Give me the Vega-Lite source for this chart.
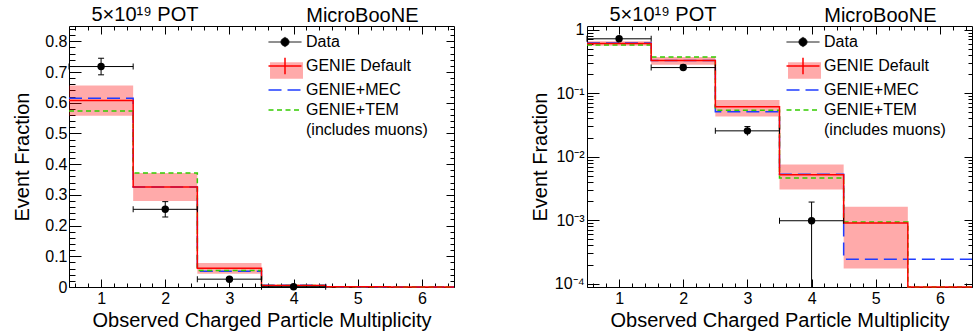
{
  "$schema": "https://vega.github.io/schema/vega-lite/v6.json",
  "padding": {"left": 11, "top": 4, "right": 0, "bottom": 0},
  "spacing": 71,
  "config": {
    "font": "Liberation Sans",
    "view": {"stroke": "black", "strokeWidth": 1},
    "axis": {"domain": false, "grid": false, "tickColor": "black", "tickWidth": 1, "labelColor": "black", "titleColor": "black", "labelFont": "Liberation Sans", "titleFont": "Liberation Sans", "labelFontSize": 16, "titleFontSize": 20, "titleFontWeight": "normal", "labelFlush": false, "labelOverlap": false, "labelBound": false},
    "legend": {"labelFont": "Liberation Sans", "labelFontSize": 16, "labelColor": "black", "padding": 0}
  },
  "resolve": {"scale": {"fill": "independent", "stroke": "independent"}},
  "datasets": {
    "hist": [
      {"model": "GENIE Default", "lo": 0.5, "hi": 1.5, "value": 0.607},
      {"model": "GENIE Default", "lo": 1.5, "hi": 2.5, "value": 0.326},
      {"model": "GENIE Default", "lo": 2.5, "hi": 3.5, "value": 0.061},
      {"model": "GENIE Default", "lo": 3.5, "hi": 4.5, "value": 0.0052},
      {"model": "GENIE Default", "lo": 4.5, "hi": 5.5, "value": 0.0009},
      {"model": "GENIE Default", "lo": 5.5, "hi": 6.5, "value": 0},
      {"model": "GENIE+MEC", "lo": 0.5, "hi": 1.5, "value": 0.615},
      {"model": "GENIE+MEC", "lo": 1.5, "hi": 2.5, "value": 0.326},
      {"model": "GENIE+MEC", "lo": 2.5, "hi": 3.5, "value": 0.051},
      {"model": "GENIE+MEC", "lo": 3.5, "hi": 4.5, "value": 0.0053},
      {"model": "GENIE+MEC", "lo": 4.5, "hi": 5.5, "value": 0.000243},
      {"model": "GENIE+MEC", "lo": 5.5, "hi": 6.5, "value": 0.000243},
      {"model": "GENIE+TEM", "lo": 0.5, "hi": 1.5, "value": 0.573},
      {"model": "GENIE+TEM", "lo": 1.5, "hi": 2.5, "value": 0.371},
      {"model": "GENIE+TEM", "lo": 2.5, "hi": 3.5, "value": 0.054},
      {"model": "GENIE+TEM", "lo": 3.5, "hi": 4.5, "value": 0.0046},
      {"model": "GENIE+TEM", "lo": 4.5, "hi": 5.5, "value": 0.00094},
      {"model": "GENIE+TEM", "lo": 5.5, "hi": 6.5, "value": 0}
    ],
    "band": [
      {"model": "GENIE Default", "lo": 0.5, "hi": 1.5, "blo": 0.558, "bhi": 0.656},
      {"model": "GENIE Default", "lo": 1.5, "hi": 2.5, "blo": 0.28, "bhi": 0.371},
      {"model": "GENIE Default", "lo": 2.5, "hi": 3.5, "blo": 0.043, "bhi": 0.078},
      {"model": "GENIE Default", "lo": 3.5, "hi": 4.5, "blo": 0.00305, "bhi": 0.0075},
      {"model": "GENIE Default", "lo": 4.5, "hi": 5.5, "blo": 0.000173, "bhi": 0.00163}
    ],
    "data": [
      {"bin": 1, "lo": 0.5, "hi": 1.5, "value": 0.718, "elo": 0.691, "ehi": 0.745},
      {"bin": 2, "lo": 1.5, "hi": 2.5, "value": 0.253, "elo": 0.228, "ehi": 0.278},
      {"bin": 3, "lo": 2.5, "hi": 3.5, "value": 0.0255, "elo": 0.0215, "ehi": 0.0298},
      {"bin": 4, "lo": 3.5, "hi": 4.5, "value": 0.00098, "elo": 0.00003, "ehi": 0.00193}
    ]
  },
  "hconcat": [
    {
      "width": 385, "height": 261,
      "resolve": {"axis": {"x": "independent", "y": "independent"}},
      "layer": [
        {
          "data": {"name": "band"},
          "mark": {"type": "rect"},
          "encoding": {
            "x": {"field": "lo", "type": "quantitative", "scale": {"domain": [0.5, 6.5], "nice": false, "zero": false},
              "axis": {"orient": "bottom", "values": [1, 2, 3, 4, 5, 6], "tickSize": -8, "labelPadding": 11, "title": "Observed Charged Particle Multiplicity", "titleY": 39, "titleBaseline": "alphabetic"}},
            "x2": {"field": "hi"},
            "y": {"field": "blo", "type": "quantitative", "scale": {"domain": [0, 0.85], "nice": false, "zero": false},
              "axis": {"orient": "left", "values": [0, 0.1, 0.2, 0.3, 0.4, 0.5, 0.6, 0.7, 0.8], "tickSize": -12, "labelPadding": 14, "labelExpr": "datum.value == 0 ? '0' : format(datum.value, '.1f')", "title": "Event Fraction", "titleX": -41, "titleY": 130.5, "titleBaseline": "alphabetic", "titleAngle": -90}},
            "y2": {"field": "bhi"},
            "fill": {"field": "model", "type": "nominal", "scale": {"domain": ["Data", "GENIE Default"], "range": ["transparent", "rgba(255,0,0,0.333)"]},
              "legend": {"orient": "none", "legendX": 208, "legendY": 8, "title": null, "labelExpr": "''", "symbolSize": 289, "symbolStrokeWidth": 1.5, "labelOffset": 13, "rowPadding": 4,
                "encode": {"symbols": {"update": {"shape": {"value": "M-1.94,-0.98H1.94V0.98H-1.94Z"}, "stroke": {"value": "transparent"}}}}}}
          }
        },
        {
          "data": {"name": "hist"},
          "transform": [{"filter": "datum.model === 'GENIE+MEC'"}, {"fold": ["lo", "hi"], "as": ["edge", "xpos"]}],
          "mark": {"type": "line", "strokeWidth": 1.5, "strokeDash": [13, 6]},
          "encoding": {
            "x": {"field": "xpos", "type": "quantitative", "axis": {"orient": "bottom", "values": [0.6, 0.8, 1.2, 1.4, 1.6, 1.8, 2.2, 2.4, 2.6, 2.8, 3.2, 3.4, 3.6, 3.8, 4.2, 4.4, 4.6, 4.8, 5.2, 5.4, 5.6, 5.8, 6.2, 6.4], "tickSize": -4, "labels": false, "title": null}},
            "y": {"field": "value", "type": "quantitative", "axis": {"orient": "left", "values": [0.02, 0.04, 0.06, 0.08, 0.12, 0.14, 0.16, 0.18, 0.22, 0.24, 0.26, 0.28, 0.32, 0.34, 0.36, 0.38, 0.42, 0.44, 0.46, 0.48, 0.52, 0.54, 0.56, 0.58, 0.62, 0.64, 0.66, 0.68, 0.72, 0.74, 0.76, 0.78, 0.82, 0.84], "tickSize": -6, "labels": false, "title": null}},
            "stroke": {"field": "model", "type": "nominal", "scale": {"domain": ["Data", "GENIE Default", "GENIE+MEC", "GENIE+TEM", "(includes muons)"], "range": ["black", "#ff0000", "#1f3cff", "#33cc00", "transparent"]},
              "legend": {"orient": "none", "legendX": 208, "legendY": 8, "title": null, "symbolSize": 289, "symbolStrokeWidth": 1.5, "labelOffset": 13, "rowPadding": 4,
                "encode": {"symbols": {"update": {
                  "shape": {"signal": "datum.value === 'Data' ? 'M-1.94,0H1.94M0,-0.6V0.6M-0.47,0A0.47,0.47,0,1,0,0.47,0A0.47,0.47,0,1,0,-0.47,0Z' : datum.value === 'GENIE Default' ? 'M-1.94,0H1.94M0,-0.98V0.98' : 'M-1.94,0H1.94'"},
                  "fill": {"signal": "datum.value === 'Data' ? 'black' : 'transparent'"},
                  "strokeDash": {"signal": "datum.value === 'GENIE+MEC' ? [13, 6] : datum.value === 'GENIE+TEM' ? [5, 3.5] : [1, 0]"},
                  "strokeWidth": {"signal": "datum.value === 'Data' ? 1 : 1.5"}
                }}}}},
            "order": [{"field": "xpos", "type": "quantitative"}, {"field": "edge", "type": "nominal"}]
          }
        },
        {
          "data": {"name": "hist"},
          "transform": [{"filter": "datum.model === 'GENIE+TEM'"}, {"fold": ["lo", "hi"], "as": ["edge", "xpos"]}],
          "mark": {"type": "line", "strokeWidth": 1.5, "strokeDash": [5, 3.5]},
          "encoding": {
            "x": {"field": "xpos", "type": "quantitative", "axis": {"orient": "top", "values": [1, 2, 3, 4, 5, 6], "tickSize": -8, "labels": false, "title": "5×10¹⁹ POT", "titleX": 22, "titleY": -5.5, "titleAlign": "left", "titleBaseline": "alphabetic", "titleAngle": 0, "titleFontSize": 20}},
            "y": {"field": "value", "type": "quantitative", "axis": {"orient": "right", "values": [0, 0.1, 0.2, 0.3, 0.4, 0.5, 0.6, 0.7, 0.8], "tickSize": -8, "labels": false, "title": null}},
            "stroke": {"field": "model", "type": "nominal"},
            "order": [{"field": "xpos", "type": "quantitative"}, {"field": "edge", "type": "nominal"}]
          }
        },
        {
          "data": {"name": "hist"},
          "transform": [{"filter": "datum.model === 'GENIE Default'"}, {"fold": ["lo", "hi"], "as": ["edge", "xpos"]}],
          "mark": {"type": "line", "strokeWidth": 1.5},
          "encoding": {
            "x": {"field": "xpos", "type": "quantitative", "axis": {"orient": "top", "values": [0.6, 0.8, 1.2, 1.4, 1.6, 1.8, 2.2, 2.4, 2.6, 2.8, 3.2, 3.4, 3.6, 3.8, 4.2, 4.4, 4.6, 4.8, 5.2, 5.4, 5.6, 5.8, 6.2, 6.4], "tickSize": -4, "labels": false, "title": "MicroBooNE", "titleX": 349, "titleY": -4.5, "titleAlign": "right", "titleBaseline": "alphabetic", "titleAngle": 0, "titleFontSize": 20}},
            "y": {"field": "value", "type": "quantitative", "axis": {"orient": "right", "values": [0.02, 0.04, 0.06, 0.08, 0.12, 0.14, 0.16, 0.18, 0.22, 0.24, 0.26, 0.28, 0.32, 0.34, 0.36, 0.38, 0.42, 0.44, 0.46, 0.48, 0.52, 0.54, 0.56, 0.58, 0.62, 0.64, 0.66, 0.68, 0.72, 0.74, 0.76, 0.78, 0.82, 0.84], "tickSize": -4, "labels": false, "title": null}},
            "stroke": {"field": "model", "type": "nominal"},
            "order": [{"field": "xpos", "type": "quantitative"}, {"field": "edge", "type": "nominal"}]
          }
        },
        {
          "data": {"name": "data"},
          "mark": {"type": "rule", "color": "black", "strokeWidth": 1},
          "encoding": {"x": {"field": "lo", "type": "quantitative", "axis": null}, "x2": {"field": "hi"}, "y": {"field": "value", "type": "quantitative", "axis": null}}
        },
        {
          "data": {"name": "data"},
          "mark": {"type": "rule", "color": "black", "strokeWidth": 1},
          "encoding": {"x": {"field": "bin", "type": "quantitative", "axis": null}, "y": {"field": "elo", "type": "quantitative", "axis": null}, "y2": {"field": "ehi"}}
        },
        {
          "data": {"name": "data"},
          "mark": {"type": "tick", "orient": "vertical", "size": 6, "thickness": 1, "color": "black", "opacity": 1},
          "encoding": {"x": {"field": "lo", "type": "quantitative", "axis": null}, "y": {"field": "value", "type": "quantitative", "axis": null}}
        },
        {
          "data": {"name": "data"},
          "mark": {"type": "tick", "orient": "vertical", "size": 6, "thickness": 1, "color": "black", "opacity": 1},
          "encoding": {"x": {"field": "hi", "type": "quantitative", "axis": null}, "y": {"field": "value", "type": "quantitative", "axis": null}}
        },
        {
          "data": {"name": "data"},
          "mark": {"type": "tick", "orient": "horizontal", "size": 6, "thickness": 1, "color": "black", "opacity": 1},
          "encoding": {"x": {"field": "bin", "type": "quantitative", "axis": null}, "y": {"field": "ehi", "type": "quantitative", "axis": null}}
        },
        {
          "data": {"name": "data"},
          "mark": {"type": "tick", "orient": "horizontal", "size": 6, "thickness": 1, "color": "black", "opacity": 1},
          "encoding": {"x": {"field": "bin", "type": "quantitative", "axis": null}, "y": {"field": "elo", "type": "quantitative", "axis": null}}
        },
        {
          "data": {"name": "data"},
          "mark": {"type": "circle", "size": 55, "color": "black", "opacity": 1},
          "encoding": {"x": {"field": "bin", "type": "quantitative", "axis": null}, "y": {"field": "value", "type": "quantitative", "axis": null}}
        }
      ]
    },
    {
      "width": 385, "height": 261,
      "resolve": {"axis": {"x": "independent", "y": "independent"}},
      "layer": [
        {
          "data": {"name": "band"},
          "mark": {"type": "rect"},
          "encoding": {
            "x": {"field": "lo", "type": "quantitative", "scale": {"domain": [0.5, 6.5], "nice": false, "zero": false},
              "axis": {"orient": "bottom", "values": [1, 2, 3, 4, 5, 6], "tickSize": -8, "labelPadding": 11, "title": "Observed Charged Particle Multiplicity", "titleY": 39, "titleBaseline": "alphabetic"}},
            "x2": {"field": "hi"},
            "y": {"field": "blo", "type": "quantitative", "scale": {"type": "log", "domain": [0.0000887, 1.142], "nice": false, "zero": false, "clamp": true},
              "axis": {"orient": "left", "values": [0.0001, 0.001, 0.01, 0.1, 1], "tickSize": -12, "labelPadding": 15, "labelExpr": "datum.value > 0.5 ? '1' : datum.value > 0.05 ? '10⁻¹' : datum.value > 0.005 ? '10⁻²' : datum.value > 0.0005 ? '10⁻³' : '10⁻⁴'", "title": "Event Fraction", "titleX": -41, "titleY": 130.5, "titleBaseline": "alphabetic", "titleAngle": -90}},
            "y2": {"field": "bhi"},
            "fill": {"field": "model", "type": "nominal", "scale": {"domain": ["Data", "GENIE Default"], "range": ["transparent", "rgba(255,0,0,0.333)"]},
              "legend": {"orient": "none", "legendX": 208, "legendY": 8, "title": null, "labelExpr": "''", "symbolSize": 289, "symbolStrokeWidth": 1.5, "labelOffset": 13, "rowPadding": 4,
                "encode": {"symbols": {"update": {"shape": {"value": "M-1.94,-0.98H1.94V0.98H-1.94Z"}, "stroke": {"value": "transparent"}}}}}}
          }
        },
        {
          "data": {"name": "hist"},
          "transform": [{"filter": "datum.model === 'GENIE+MEC'"}, {"fold": ["lo", "hi"], "as": ["edge", "xpos"]}],
          "mark": {"type": "line", "strokeWidth": 1.5, "strokeDash": [13, 6]},
          "encoding": {
            "x": {"field": "xpos", "type": "quantitative", "axis": {"orient": "bottom", "values": [0.6, 0.8, 1.2, 1.4, 1.6, 1.8, 2.2, 2.4, 2.6, 2.8, 3.2, 3.4, 3.6, 3.8, 4.2, 4.4, 4.6, 4.8, 5.2, 5.4, 5.6, 5.8, 6.2, 6.4], "tickSize": -4, "labels": false, "title": null}},
            "y": {"field": "value", "type": "quantitative", "axis": {"orient": "left", "values": [0.00009, 0.0002, 0.0003, 0.0004, 0.0005, 0.0006, 0.0007, 0.0008, 0.0009, 0.002, 0.003, 0.004, 0.005, 0.006, 0.007, 0.008, 0.009, 0.02, 0.03, 0.04, 0.05, 0.06, 0.07, 0.08, 0.09, 0.2, 0.3, 0.4, 0.5, 0.6, 0.7, 0.8, 0.9], "tickSize": -6, "labels": false, "title": null}},
            "stroke": {"field": "model", "type": "nominal", "scale": {"domain": ["Data", "GENIE Default", "GENIE+MEC", "GENIE+TEM", "(includes muons)"], "range": ["black", "#ff0000", "#1f3cff", "#33cc00", "transparent"]},
              "legend": {"orient": "none", "legendX": 208, "legendY": 8, "title": null, "symbolSize": 289, "symbolStrokeWidth": 1.5, "labelOffset": 13, "rowPadding": 4,
                "encode": {"symbols": {"update": {
                  "shape": {"signal": "datum.value === 'Data' ? 'M-1.94,0H1.94M0,-0.6V0.6M-0.47,0A0.47,0.47,0,1,0,0.47,0A0.47,0.47,0,1,0,-0.47,0Z' : datum.value === 'GENIE Default' ? 'M-1.94,0H1.94M0,-0.98V0.98' : 'M-1.94,0H1.94'"},
                  "fill": {"signal": "datum.value === 'Data' ? 'black' : 'transparent'"},
                  "strokeDash": {"signal": "datum.value === 'GENIE+MEC' ? [13, 6] : datum.value === 'GENIE+TEM' ? [5, 3.5] : [1, 0]"},
                  "strokeWidth": {"signal": "datum.value === 'Data' ? 1 : 1.5"}
                }}}}},
            "order": [{"field": "xpos", "type": "quantitative"}, {"field": "edge", "type": "nominal"}]
          }
        },
        {
          "data": {"name": "hist"},
          "transform": [{"filter": "datum.model === 'GENIE+TEM'"}, {"fold": ["lo", "hi"], "as": ["edge", "xpos"]}],
          "mark": {"type": "line", "strokeWidth": 1.5, "strokeDash": [5, 3.5]},
          "encoding": {
            "x": {"field": "xpos", "type": "quantitative", "axis": {"orient": "top", "values": [1, 2, 3, 4, 5, 6], "tickSize": -8, "labels": false, "title": "5×10¹⁹ POT", "titleX": 22, "titleY": -5.5, "titleAlign": "left", "titleBaseline": "alphabetic", "titleAngle": 0, "titleFontSize": 20}},
            "y": {"field": "value", "type": "quantitative", "axis": {"orient": "right", "values": [0.0001, 0.001, 0.01, 0.1, 1], "tickSize": -8, "labels": false, "title": null}},
            "stroke": {"field": "model", "type": "nominal"},
            "order": [{"field": "xpos", "type": "quantitative"}, {"field": "edge", "type": "nominal"}]
          }
        },
        {
          "data": {"name": "hist"},
          "transform": [{"filter": "datum.model === 'GENIE Default'"}, {"fold": ["lo", "hi"], "as": ["edge", "xpos"]}],
          "mark": {"type": "line", "strokeWidth": 1.5},
          "encoding": {
            "x": {"field": "xpos", "type": "quantitative", "axis": {"orient": "top", "values": [0.6, 0.8, 1.2, 1.4, 1.6, 1.8, 2.2, 2.4, 2.6, 2.8, 3.2, 3.4, 3.6, 3.8, 4.2, 4.4, 4.6, 4.8, 5.2, 5.4, 5.6, 5.8, 6.2, 6.4], "tickSize": -4, "labels": false, "title": "MicroBooNE", "titleX": 349, "titleY": -4.5, "titleAlign": "right", "titleBaseline": "alphabetic", "titleAngle": 0, "titleFontSize": 20}},
            "y": {"field": "value", "type": "quantitative", "axis": {"orient": "right", "values": [0.00009, 0.0002, 0.0003, 0.0004, 0.0005, 0.0006, 0.0007, 0.0008, 0.0009, 0.002, 0.003, 0.004, 0.005, 0.006, 0.007, 0.008, 0.009, 0.02, 0.03, 0.04, 0.05, 0.06, 0.07, 0.08, 0.09, 0.2, 0.3, 0.4, 0.5, 0.6, 0.7, 0.8, 0.9], "tickSize": -4, "labels": false, "title": null}},
            "stroke": {"field": "model", "type": "nominal"},
            "order": [{"field": "xpos", "type": "quantitative"}, {"field": "edge", "type": "nominal"}]
          }
        },
        {
          "data": {"name": "data"},
          "mark": {"type": "rule", "color": "black", "strokeWidth": 1},
          "encoding": {"x": {"field": "lo", "type": "quantitative", "axis": null}, "x2": {"field": "hi"}, "y": {"field": "value", "type": "quantitative", "axis": null}}
        },
        {
          "data": {"name": "data"},
          "mark": {"type": "rule", "color": "black", "strokeWidth": 1},
          "encoding": {"x": {"field": "bin", "type": "quantitative", "axis": null}, "y": {"field": "elo", "type": "quantitative", "axis": null}, "y2": {"field": "ehi"}}
        },
        {
          "data": {"name": "data"},
          "mark": {"type": "tick", "orient": "vertical", "size": 6, "thickness": 1, "color": "black", "opacity": 1},
          "encoding": {"x": {"field": "lo", "type": "quantitative", "axis": null}, "y": {"field": "value", "type": "quantitative", "axis": null}}
        },
        {
          "data": {"name": "data"},
          "mark": {"type": "tick", "orient": "vertical", "size": 6, "thickness": 1, "color": "black", "opacity": 1},
          "encoding": {"x": {"field": "hi", "type": "quantitative", "axis": null}, "y": {"field": "value", "type": "quantitative", "axis": null}}
        },
        {
          "data": {"name": "data"},
          "mark": {"type": "tick", "orient": "horizontal", "size": 6, "thickness": 1, "color": "black", "opacity": 1},
          "encoding": {"x": {"field": "bin", "type": "quantitative", "axis": null}, "y": {"field": "ehi", "type": "quantitative", "axis": null}}
        },
        {
          "data": {"name": "data"},
          "mark": {"type": "circle", "size": 55, "color": "black", "opacity": 1},
          "encoding": {"x": {"field": "bin", "type": "quantitative", "axis": null}, "y": {"field": "value", "type": "quantitative", "axis": null}}
        }
      ]
    }
  ]
}
